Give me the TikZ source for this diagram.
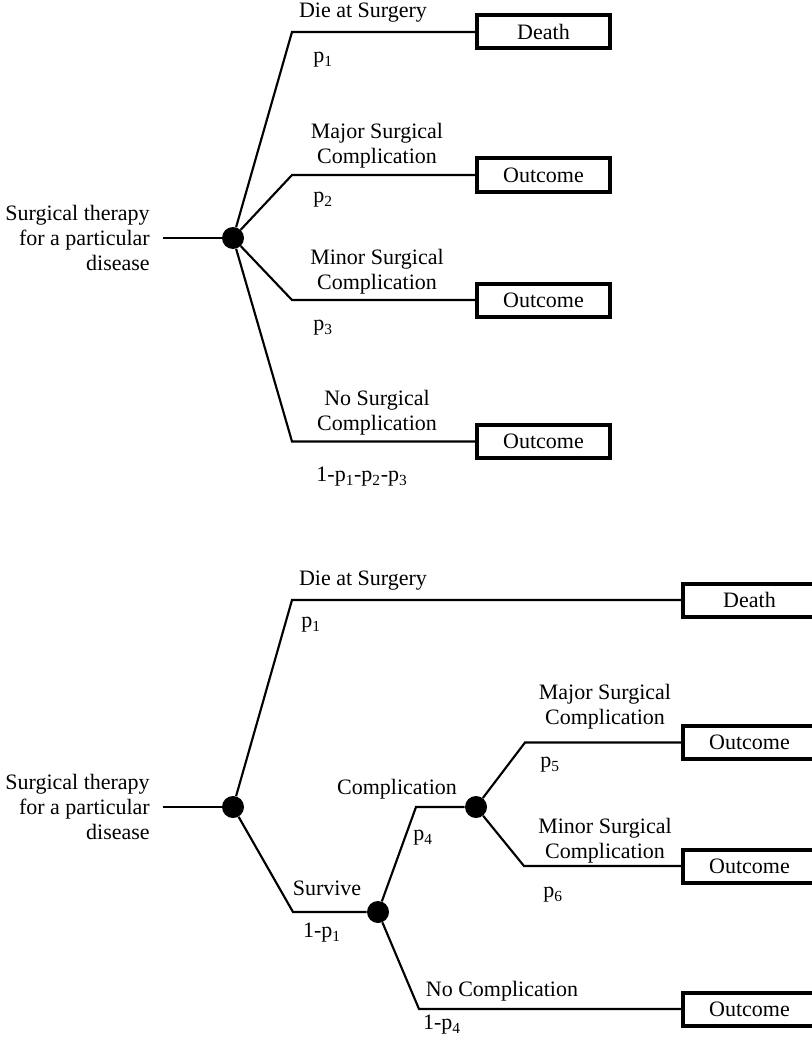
\documentclass[tikz,border=0pt]{standalone}
\usepackage{fontspec}
\setmainfont{Liberation Serif}
\begin{document}
\begin{tikzpicture}[x=0.75pt,y=-0.75pt,
  every node/.style={font=\fontsize{16.5}{18.75}\selectfont},
  branch/.style={line width=1.6pt, line join=miter},
  chance/.style={circle, fill=black, minimum size=16.5pt, inner sep=0pt},
  lbl/.style={inner sep=0pt, align=center},
  rootlbl/.style={anchor=east, align=right, inner xsep=9.75pt, inner ysep=0pt},
  outcome/.style={draw, line width=3pt, minimum width=99.75pt, minimum height=24.75pt, inner sep=0pt}
]
\useasboundingbox (0,0) rectangle (812,1038);
\clip (0,0) rectangle (812,1038);

% ---------- single-stage tree ----------
\node[rootlbl] (rootA) at (163,238) {Surgical therapy\\for a particular\\disease};
\node[chance] (cA) at (233,238) {};
\coordinate (kA1) at (292,32);
\coordinate (kA2) at (292,175);
\coordinate (kA3) at (292,300);
\coordinate (kA4) at (292,441.5);
\node[outcome] (oA1) at (543.5,32) {Death};
\node[outcome] (oA2) at (543.5,175) {Outcome};
\node[outcome] (oA3) at (543.5,300) {Outcome};
\node[outcome] (oA4) at (543.5,441.5) {Outcome};

\draw[branch] (rootA.east) -- (cA);
\draw[branch] (cA) -- (kA1) -- (oA1.west);
\draw[branch] (cA) -- (kA2) -- (oA2.west);
\draw[branch] (cA) -- (kA3) -- (oA3.west);
\draw[branch] (cA) -- (kA4) -- (oA4.west);

\node[lbl] (tA1) at (363,13) {Die at Surgery};
\node[lbl] (pA1) at (323,60) {p\textsubscript{1}};
\node[lbl] (tA2) at (377,146) {Major Surgical\\Complication};
\node[lbl] (pA2) at (323,200) {p\textsubscript{2}};
\node[lbl] (tA3) at (377,272) {Minor Surgical\\Complication};
\node[lbl] (pA3) at (323,328) {p\textsubscript{3}};
\node[lbl] (tA4) at (377,413) {No Surgical\\Complication};
\node[lbl] (pA4) at (362,477) {1-p\textsubscript{1}-p\textsubscript{2}-p\textsubscript{3}};

% ---------- two-stage tree ----------
\node[rootlbl] (rootB) at (163,807) {Surgical therapy\\for a particular\\disease};
\node[chance] (cB) at (233,807) {};
\node[chance] (cS) at (378,912) {};
\node[chance] (cC) at (476,807) {};
\coordinate (kB1) at (292,600);
\coordinate (kB2) at (293,912);
\coordinate (kC1) at (416,807);
\coordinate (kC2) at (419,1009);
\coordinate (kD1) at (525,742.5);
\coordinate (kD2) at (524,866);
\node[outcome] (oB1) at (749.5,600) {Death};
\node[outcome] (oD1) at (749.5,742.5) {Outcome};
\node[outcome] (oD2) at (749.5,866) {Outcome};
\node[outcome] (oC2) at (749.5,1009) {Outcome};

\draw[branch] (rootB.east) -- (cB);
\draw[branch] (cB) -- (kB1) -- (oB1.west);
\draw[branch] (cB) -- (kB2) -- (cS);
\draw[branch] (cS) -- (kC1) -- (cC);
\draw[branch] (cS) -- (kC2) -- (oC2.west);
\draw[branch] (cC) -- (kD1) -- (oD1.west);
\draw[branch] (cC) -- (kD2) -- (oD2.west);

\node[lbl] (tB1) at (363,581) {Die at Surgery};
\node[lbl] (pB1) at (311,625) {p\textsubscript{1}};
\node[lbl] (tB2) at (327,888) {Survive};
\node[lbl] (pB2) at (322,933) {1-p\textsubscript{1}};
\node[lbl] (tC1) at (397,789) {Complication};
\node[lbl] (pC1) at (423,838) {p\textsubscript{4}};
\node[lbl] (tC2) at (502,991) {No Complication};
\node[lbl] (pC2) at (442,1025) {1-p\textsubscript{4}};
\node[lbl] (tD1) at (605,707) {Major Surgical\\Complication};
\node[lbl] (pD1) at (550,765) {p\textsubscript{5}};
\node[lbl] (tD2) at (605,841) {Minor Surgical\\Complication};
\node[lbl] (pD2) at (553,895) {p\textsubscript{6}};
\end{tikzpicture}
\end{document}
